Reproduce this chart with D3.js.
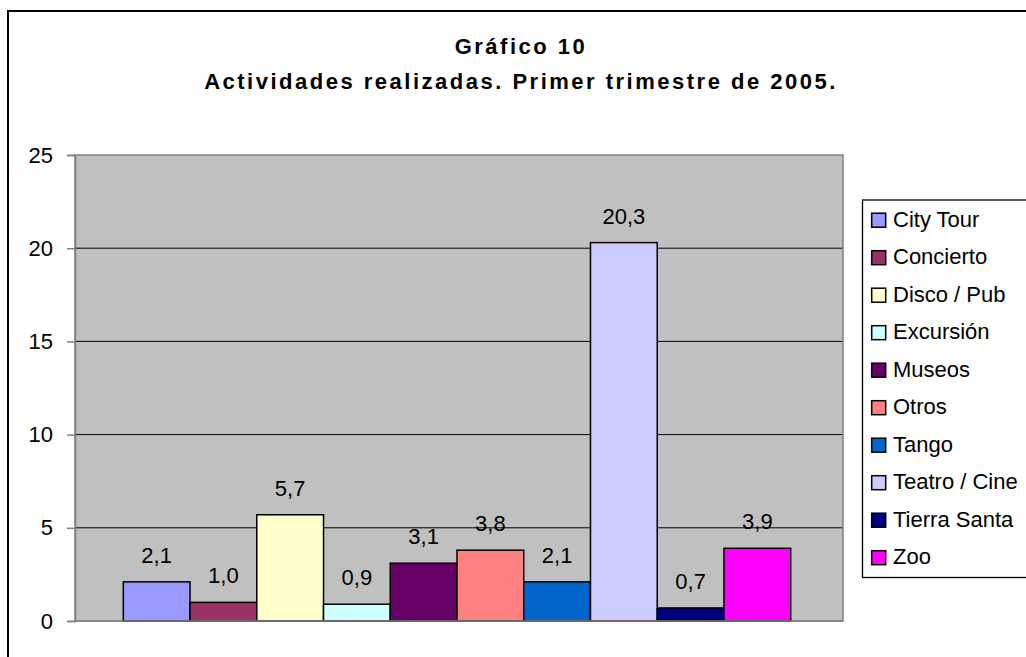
<!DOCTYPE html>
<html>
<head>
<meta charset="utf-8">
<script src="https://cdn.jsdelivr.net/npm/d3@7"></script>
<style>
  html, body { margin: 0; padding: 0; background: #fff; }
  svg { display: block; }
  text { font-family: "Liberation Sans", Arial, sans-serif; }
</style>
</head>
<body>
<svg id="chart" width="1026" height="657"></svg>
<script>
const categories = ["City Tour", "Concierto", "Disco / Pub", "Excursión", "Museos", "Otros", "Tango", "Teatro / Cine", "Tierra Santa", "Zoo"];
const values = [2.1, 1.0, 5.7, 0.9, 3.1, 3.8, 2.1, 20.3, 0.7, 3.9];
const colors = ["#9999FF", "#993366", "#FFFFCC", "#CCFFFF", "#660066", "#FF8080", "#0066CC", "#CCCCFF", "#000080", "#FF00FF"];
const yTicks = [0, 5, 10, 15, 20, 25];
const titleLines = ["Gráfico 10", "Actividades realizadas. Primer trimestre de 2005."];

const svg = d3.select("#chart");

// outer chart border
svg.append("rect").attr("x", 8).attr("y", 11).attr("width", 1100).attr("height", 700)
  .attr("fill", "#fff").attr("stroke", "#000").attr("stroke-width", 2);

// title
svg.append("g").selectAll("text").data(titleLines).join("text")
  .attr("x", 521).attr("y", (d, i) => 54 + i * 34.5)
  .attr("text-anchor", "middle")
  .style("font-size", "22px").style("font-weight", "bold").style("letter-spacing", "2.5px")
  .text(d => d);

const plot = { left: 75, right: 843, top: 155, bottom: 621 };

const y = d3.scaleLinear().domain([0, 25]).range([plot.bottom, plot.top]);
const x = d3.scaleBand().domain(categories).range([plot.left + 48.3, plot.right - 52.3]).paddingInner(0);

// plot area
svg.append("rect").attr("x", plot.left).attr("y", plot.top)
  .attr("width", plot.right - plot.left).attr("height", plot.bottom - plot.top)
  .attr("fill", "#C0C0C0");

// gridlines
svg.append("g").selectAll("line").data(yTicks.filter(t => t > 0 && t < 25)).join("line")
  .attr("x1", plot.left).attr("x2", plot.right)
  .attr("y1", d => y(d)).attr("y2", d => y(d))
  .attr("stroke", "#000").attr("stroke-width", 1);

// plot border
svg.append("rect").attr("x", plot.left).attr("y", plot.top)
  .attr("width", plot.right - plot.left).attr("height", plot.bottom - plot.top)
  .attr("fill", "none").attr("stroke", "#808080").attr("stroke-width", 1.5);

// bars
svg.append("g").selectAll("rect").data(values).join("rect")
  .attr("x", (d, i) => x(categories[i]))
  .attr("width", x.bandwidth())
  .attr("y", d => y(d))
  .attr("height", d => y(0) - y(d))
  .attr("fill", (d, i) => colors[i])
  .attr("stroke", "#000").attr("stroke-width", 1.5);

// data labels
svg.append("g").selectAll("text").data(values).join("text")
  .attr("x", (d, i) => x(categories[i]) + x.bandwidth() / 2)
  .attr("y", d => y(d) - 19)
  .attr("text-anchor", "middle")
  .style("font-size", "22px")
  .text(d => d.toFixed(1).replace(".", ","));

// y axis
const yAxis = svg.append("g").attr("transform", `translate(${plot.left},0)`)
  .call(d3.axisLeft(y).tickValues(yTicks).tickSize(8).tickPadding(14).tickFormat(d => d));
yAxis.select(".domain").attr("stroke", "#808080").attr("stroke-width", 1.5);
yAxis.selectAll(".tick line").attr("stroke", "#808080").attr("stroke-width", 1.5);
yAxis.selectAll(".tick text").attr("fill", "#000")
  .style("font-size", "22px").style("font-family", "'Liberation Sans', Arial, sans-serif");

// x axis baseline
svg.append("line").attr("x1", plot.left).attr("x2", plot.right)
  .attr("y1", y(0)).attr("y2", y(0)).attr("stroke", "#808080").attr("stroke-width", 1.5);

// legend
const legend = svg.append("g");
legend.append("rect").attr("x", 862.5).attr("y", 200).attr("width", 300).attr("height", 377.5)
  .attr("fill", "#fff").attr("stroke", "#000").attr("stroke-width", 1.3);
const items = legend.selectAll("g.item").data(categories).join("g").attr("class", "item")
  .attr("transform", (d, i) => `translate(0,${226.7 + i * 37.5})`);
items.append("rect").attr("x", 871.7).attr("y", -13.5).attr("width", 14).attr("height", 14)
  .attr("fill", (d, i) => colors[i]).attr("stroke", "#000").attr("stroke-width", 1.5);
items.append("text").attr("x", 893).attr("y", 0)
  .style("font-size", "22px")
  .text(d => d);
</script>
</body>
</html>
